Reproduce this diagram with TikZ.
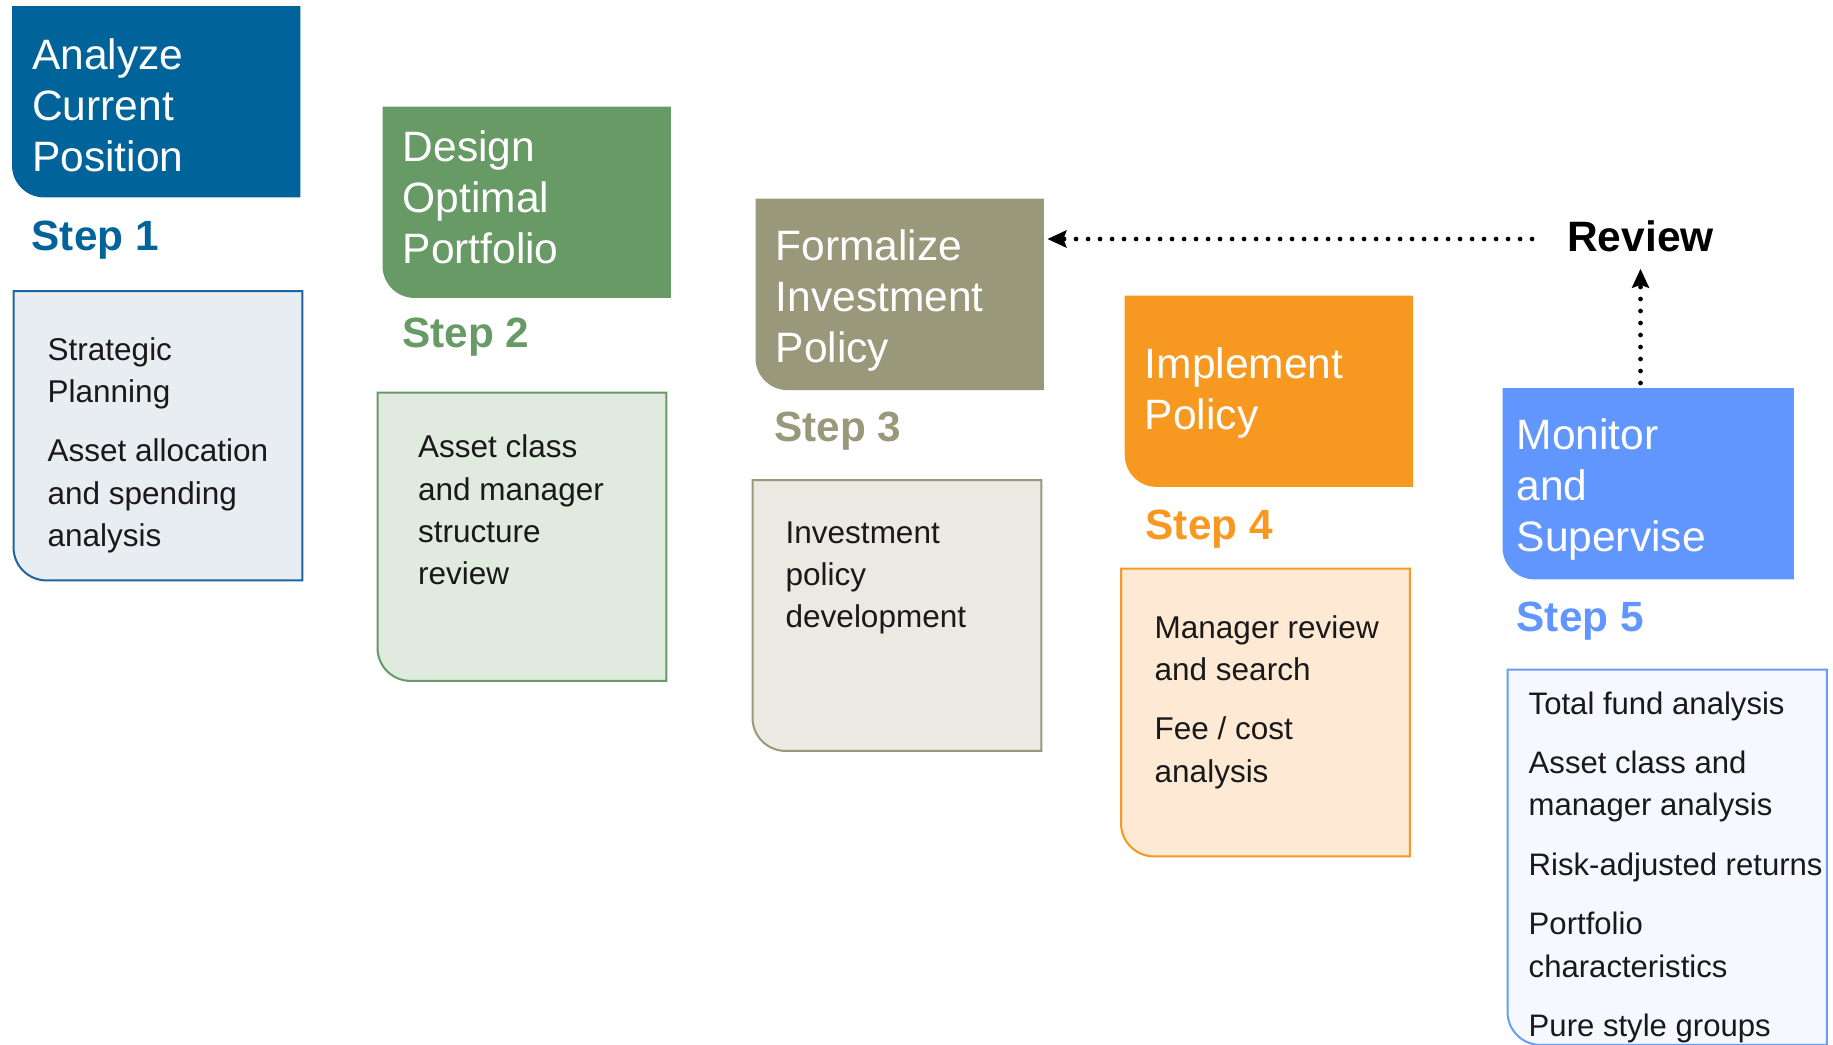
\documentclass[tikz,border=0pt]{standalone}
\usepackage{fontspec}
\setmainfont{Liberation Sans}
\usetikzlibrary{arrows.meta,backgrounds}

% one colour per step, plus a pale tint for the panel under it
\definecolor{stepone}{RGB}{0,99,154}
\definecolor{steptwo}{RGB}{103,154,101}
\definecolor{stepthree}{RGB}{154,152,122}
\definecolor{stepfour}{RGB}{247,152,32}
\definecolor{stepfive}{RGB}{97,150,255}
\definecolor{tintone}{RGB}{232,237,242}
\definecolor{tinttwo}{RGB}{224,234,222}
\definecolor{tintthree}{RGB}{234,233,226}
\definecolor{tintfour}{RGB}{253,233,212}
\definecolor{tintfive}{RGB}{245,248,255}
\definecolor{edgeone}{RGB}{30,100,160}
\definecolor{edgefive}{RGB}{106,156,245}

\begin{document}
\begin{tikzpicture}[x=1pt,y=-1pt,
    head/.style={anchor=north west, inner sep=0pt,
        minimum width=288pt, minimum height=191pt},
    title/.style={anchor=north west, inner sep=0pt, align=left, text=white,
        font=\fontsize{42.5}{51}\selectfont},
    steplabel/.style={anchor=base west, inner sep=0pt,
        font=\bfseries\fontsize{42.3}{50}\selectfont},
    panel/.style={anchor=north west, inner sep=0pt, minimum width=288.5pt},
    points/.style={anchor=north west, inner sep=0pt, align=left,
        text=black!90, font=\fontsize{31.5}{42.4}\selectfont},
    feedback/.style={line width=4.7pt, line cap=round,
        dash pattern=on 0pt off 12pt,
        -{Stealth[length=19pt,width=17pt,inset=3pt]}}]
\useasboundingbox (0,0) rectangle (1833,1044);

%The five coloured title blocks, stepping down to the right
\node[head] (h1) at (12,6) {};
\node[head] (h2) at (382.5,106.5) {};
\node[head] (h3) at (755.5,198.7) {};
\node[head] (h4) at (1124.7,295.5) {};
\node[head, minimum width=291pt] (h5) at (1502.5,388) {};

\node[title] (n1) at (32,38.7) {Analyze\\Current\\Position};
\node[title] (n2) at (402.5,131) {Design\\Optimal\\Portfolio};
\node[title] (n3) at (775.5,229.2) {Formalize\\Investment\\Policy};
\node[title] (n4) at (1144.7,347.3) {Implement\\Policy};
\node[title] (n5) at (1516.5,418.6) {Monitor\\and\\Supervise};

%Step numbers under each block
\node[steplabel, text=stepone] (s1) at (31.5,250) {Step 1};
\node[steplabel, text=steptwo] (s2) at (402,347) {Step 2};
\node[steplabel, text=stepthree] (s3) at (774,441) {Step 3};
\node[steplabel, text=stepfour] (s4) at (1145.5,539) {Step 4};
\node[steplabel, text=stepfive] (s5) at (1516.5,631.5) {Step 5};

%Empty panels, the text goes in separately so it sits at the top
\node[panel, minimum height=289pt] (b1) at (13.5,291) {};
\node[panel, minimum height=288pt] (b2) at (377.5,392.5) {};
\node[panel, minimum height=270.5pt] (b3) at (752.5,480) {};
\node[panel, minimum height=287.5pt] (b4) at (1121,568.5) {};
\node[panel, minimum height=375pt, minimum width=319pt] (b5) at (1507.5,669.5) {};

\node[points] (t1) at (47.5,337) {Strategic\\Planning\\[17pt]Asset allocation\\and spending\\analysis};
\node[points] (t2) at (418,434.7) {Asset class\\and manager\\structure\\review};
\node[points] (t3) at (785.5,521.2) {Investment\\policy\\development};
\node[points] (t4) at (1154.5,615) {Manager review\\and search\\[17pt]Fee / cost\\analysis};
\node[points, font=\fontsize{31.1}{42.4}\selectfont] (t5) at (1528.5,691.4) {Total fund analysis\\[17pt]Asset class and\\manager analysis\\[17pt]Risk-adjusted returns\\[17pt]Portfolio\\characteristics\\[17pt]Pure style groups};

%Review loop back to step 3
\node[inner sep=0pt, font=\bfseries\fontsize{42.5}{50}\selectfont] (rev) at (1640.5,236) {Review};
\coordinate (rv) at ([yshift=-3pt]rev.west);
\draw[feedback, shorten >=3.5pt] ([xshift=-35pt]rv) -- (h3.east |- rv);
\draw[feedback, shorten <=5pt, shorten >=17pt] (rev.south |- h5.north) -- (rev.south);

%Shapes behind the text: only the lower left corner is rounded
\begin{scope}[on background layer]
\foreach \n/\c in {h1/stepone,h2/steptwo,h3/stepthree,h4/stepfour,h5/stepfive}
    \fill[\c] (\n.north west) -- (\n.north east) -- (\n.south east)
        -- ([xshift=32pt]\n.south west) arc[start angle=270,end angle=180,radius=32pt]
        -- cycle;
\foreach \n/\c/\e in {b1/tintone/edgeone,b2/tinttwo/steptwo,b3/tintthree/stepthree,
        b4/tintfour/stepfour,b5/tintfive/edgefive}
    \filldraw[fill=\c, draw=\e, line width=2pt] (\n.north west) -- (\n.north east)
        -- (\n.south east)
        -- ([xshift=33pt]\n.south west) arc[start angle=270,end angle=180,radius=33pt]
        -- cycle;
\end{scope}
\end{tikzpicture}
\end{document}
